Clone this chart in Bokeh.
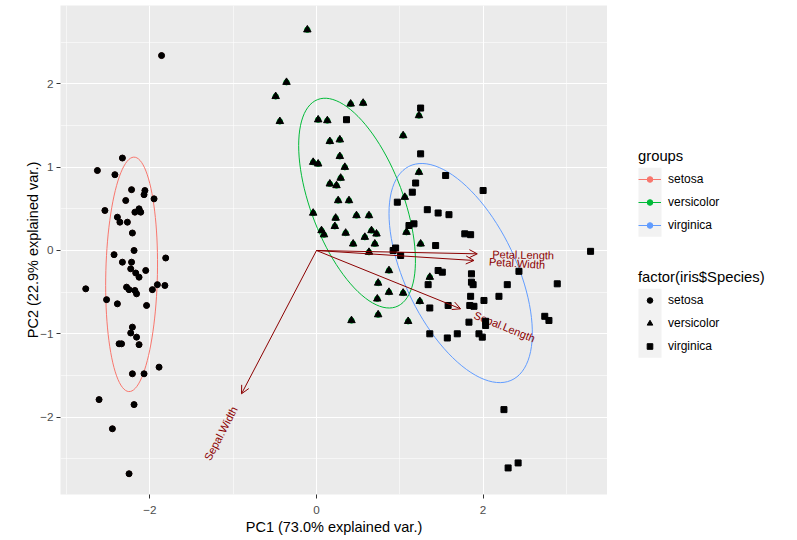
import numpy as np
from bokeh.plotting import figure
from bokeh.layouts import row
from bokeh.models import (ColumnDataSource, FixedTicker, Arrow, OpenHead, Legend,
                          LegendItem, Range1d)
from bokeh.embed import file_html
from bokeh.resources import INLINE
from bokeh.core.properties import value

# ---------------- data ----------------
species = ["setosa", "versicolor", "virginica"]

setosa_pc1 = [-1.86, -2.33, -2.63, -2.42, -2.22, -2.06, -2.07, -1.95, -2.29, -2.54,
              -2.13, -2.18, -2.11, -2.39, -2.36, -2.27, -2.21, -2.43, -2.19, -1.81,
              -2.33, -2.22, -2.23, -2.17, -2.05, -2.13, -2.77, -2.28, -2.25, -2.18,
              -2.16, -1.97, -1.91, -1.82, -2.52, -2.39, -2.04, -2.21, -2.23, -2.16,
              -2.37, -2.34, -2.13, -1.89, -2.21, -2.07, -2.61, -2.19, -2.45, -2.25]
setosa_pc2 = [2.34, 1.11, 0.96, 0.91, 0.73, 0.72, 0.67, 0.62, 0.60, 0.48,
              0.50, 0.46, 0.46, 0.40, 0.34, 0.34, 0.21, -0.05, 0.00, -0.09,
              -0.14, -0.14, -0.22, -0.27, -0.24, -0.32, -0.46, -0.44, -0.47, -0.48,
              -0.52, -0.47, -0.41, -0.42, -0.59, -0.64, -0.66, -0.92, -0.99, -1.04,
              -1.12, -1.12, -1.13, -1.40, -1.48, -1.48, -1.79, -1.85, -2.14, -2.68]

versicolor_pc1 = [-0.11, -0.36, -0.49, -0.44, 0.02, 0.13, 0.41, 0.56, 0.16, 0.28,
                  0.28, -0.04, 0.02, 0.34, 0.29, 0.16, 0.24, 0.26, 0.39, 1.06,
                  -0.04, 0.48, 0.63, 0.23, 0.22, 0.06, 0.09, 0.35, 0.66, 0.72,
                  0.58, 1.08, 0.44, 0.70, 0.63, 1.25, 0.87, 0.74, 0.87, 1.04,
                  1.24, 0.73, 0.74, 0.42, 1.10, 1.23, 1.04, 1.23, 1.36]
versicolor_pc2 = [2.65, 2.02, 1.85, 1.55, 1.57, 1.56, 1.76, 1.77, 1.31, 1.33,
                  1.13, 1.06, 1.04, 1.00, 0.87, 0.80, 0.78, 0.60, 0.60, 0.64,
                  0.45, 0.42, 0.42, 0.39, 0.29, 0.24, 0.19, 0.21, 0.24, 0.20,
                  0.16, 0.22, 0.08, 0.08, -0.02, 0.08, -0.24, -0.39, -0.50, -0.51,
                  -0.61, -0.58, -0.77, -0.84, -0.85, 1.62, 1.38, 0.94, -0.32]

virginica_pc1 = [0.36, 0.97, 1.19, 1.15, 1.11, 1.17, 0.92, 0.95, 1.01, 1.25,
                 1.25, 1.55, 2.00, 1.33, 1.46, 1.59, 1.78, 1.85, 1.43, 1.46,
                 1.51, 1.86, 1.86, 1.88, 2.29, 1.34, 1.85, 2.19, 2.01, 1.36,
                 1.58, 1.84, 1.89, 1.83, 2.03, 2.03, 1.36, 1.57, 1.69, 1.95,
                 1.99, 3.29, 2.43, 2.89, 2.74, 2.79, 2.25, 2.42, 2.30]
virginica_pc2 = [1.57, 0.58, 0.81, 0.70, 0.30, 0.32, 0.00, 0.03, -0.06, 1.71,
                 1.16, 0.90, 0.72, 0.49, 0.45, 0.43, 0.20, 0.19, 0.06, -0.24,
                 -0.26, -0.28, -0.38, -0.41, -0.41, -0.41, -0.55, -0.55, -0.60, -0.69,
                 -0.66, -0.66, -0.67, -0.86, -0.85, -0.90, -1.00, -1.05, -1.00, -1.00,
                 -1.04, -0.01, -0.25, -0.40, -0.79, -0.84, -1.91, -2.55, -2.61]

var_names = ["Sepal.Length", "Sepal.Width", "Petal.Length", "Petal.Width"]
var_pc1 = [1.73, -0.90, 1.93, 1.89]
var_pc2 = [-0.70, -1.72, -0.04, -0.12]

x_ticks = [-2, 0, 2]
x_minor = [-3, -1, 1, 3]
y_ticks = [-2, -1, 0, 1, 2]
y_minor = [-2.5, -1.5, -0.5, 0.5, 1.5, 2.5]
ellipse_prob = 0.68

group_colors = ["#F8766D", "#00BA38", "#619CFF"]
markers = ["circle", "triangle", "square"]
marker_sizes = [6, 7.5, 6]
FONT = "Liberation Sans"
DARKRED = "#8B0000"

pcs = {
    "setosa": (setosa_pc1, setosa_pc2),
    "versicolor": (versicolor_pc1, versicolor_pc2),
    "virginica": (virginica_pc1, virginica_pc2),
}

# ---------------- main figure ----------------
X0, X1, Y0, Y1 = -3.073, 3.493, -2.929, 2.941
H = 540
TOP, BOTTOM = 5, 46
FRAME_W, FRAME_H = 547, H - TOP - BOTTOM
p = figure(width=607, height=H, output_backend="svg", toolbar_location=None,
           x_range=Range1d(X0, X1), y_range=Range1d(Y0, Y1),
           min_border_left=60, min_border_right=0, min_border_top=TOP,
           min_border_bottom=BOTTOM)
p.background_fill_color = "#EBEBEB"
p.border_fill_color = "white"
p.outline_line_color = None

xt = FixedTicker(ticks=x_ticks, minor_ticks=x_minor)
yt = FixedTicker(ticks=y_ticks, minor_ticks=y_minor)
p.xaxis.ticker = xt
p.yaxis.ticker = yt
p.xgrid.ticker = xt
p.ygrid.ticker = yt
for g in (p.xgrid, p.ygrid):
    g.grid_line_color = "white"
    g.grid_line_width = 1.1
    g.minor_grid_line_color = "white"
    g.minor_grid_line_width = 0.55

for ax in (p.xaxis, p.yaxis):
    ax.axis_line_color = None
    ax.major_tick_line_color = "#333333"
    ax.major_tick_out = 4
    ax.major_tick_in = 0
    ax.minor_tick_out = 0
    ax.minor_tick_in = 0
    ax.major_label_text_color = "#4D4D4D"
    ax.major_label_text_font = FONT
    ax.major_label_text_font_size = "11.7px"
    ax.axis_label_text_font = FONT
    ax.axis_label_text_font_size = "14.5px"
    ax.axis_label_text_font_style = "normal"
    ax.axis_label_text_color = "black"
p.xaxis.major_label_standoff = 7
p.xaxis.axis_label_standoff = 2
p.yaxis.major_label_standoff = 3
p.yaxis.axis_label_standoff = -4
p.xaxis.axis_label = "PC1 (73.0% explained var.)"
p.yaxis.axis_label = "PC2 (22.9% explained var.)"

# ---------------- arrows ----------------
vsrc = ColumnDataSource(dict(x0=[0] * len(var_names), y0=[0] * len(var_names),
                             x1=var_pc1, y1=var_pc2))
p.add_layout(Arrow(source=vsrc, x_start="x0", y_start="y0", x_end="x1", y_end="y1",
                   line_color=DARKRED, line_width=1,
                   end=OpenHead(size=8, line_color=DARKRED, line_width=1)))

# ---------------- coloured points + ellipses ----------------
r_ed = np.sqrt(-2 * np.log(1 - ellipse_prob))
theta = np.linspace(-np.pi, np.pi, 100)
circle = np.column_stack([np.cos(theta), np.sin(theta)])
for sp, col in zip(species, group_colors):
    xs, ys = pcs[sp]
    p.scatter(xs, ys, marker="circle", size=5.5, color=col)
for sp, col in zip(species, group_colors):
    xs, ys = np.array(pcs[sp][0]), np.array(pcs[sp][1])
    sigma = np.cov(np.vstack([xs, ys]))
    mu = np.array([xs.mean(), ys.mean()])
    chol = np.linalg.cholesky(sigma).T  # upper triangular like R chol()
    pts = circle @ chol * r_ed + mu
    p.line(pts[:, 0], pts[:, 1], line_color=col, line_width=1)

# ---------------- variable labels ----------------
vx = np.array(var_pc1)
vy = np.array(var_pc2)
sx = FRAME_W / (X1 - X0)
sy = FRAME_H / (Y1 - Y0)
dpx = np.hypot(vx * sx, vy * sy)
off = 15.0
lx = vx + (vx * sx / dpx) * off / sx
ly = vy + (vy * sy / dpx) * off / sy
ang = np.arctan(vy / vx)
align = ["left" if v > 0 else "right" for v in vx]
lsrc = ColumnDataSource(dict(x=lx, y=ly, t=var_names, a=ang, al=align))
p.text(x="x", y="y", text="t", angle="a", text_align="al", text_baseline="middle",
       text_color=DARKRED, text_font=value(FONT), text_font_size="11px", source=lsrc)

# ---------------- black shape points ----------------
for sp, mk, ms in zip(species, markers, marker_sizes):
    xs, ys = pcs[sp]
    p.scatter(xs, ys, marker=mk, size=ms, color="black")

# ---------------- legend panel (data units = screen pixels) ----------------
LW = 190
lf = figure(width=LW, height=H, output_backend="svg", toolbar_location=None,
            x_range=Range1d(0, LW), y_range=Range1d(BOTTOM, H - TOP),
            x_axis_type=None, y_axis_type=None, min_border_left=0,
            min_border_right=0, min_border_top=TOP, min_border_bottom=BOTTOM)
lf.grid.visible = False
lf.outline_line_color = None
lf.background_fill_color = "white"
lf.border_fill_color = "white"

KEY_L, KEY_W, KEY_H = 31, 23, 23
GLYPH_H = 14
# bottom edges of the two key columns, in pixels above the figure bottom
LEG1_BOTTOM, LEG2_BOTTOM = H - 236.3, H - 357.3
n = len(species)
lf.quad(left=[KEY_L, KEY_L], right=[KEY_L + KEY_W, KEY_L + KEY_W],
        bottom=[LEG1_BOTTOM, LEG2_BOTTOM],
        top=[LEG1_BOTTOM + n * KEY_H, LEG2_BOTTOM + n * KEY_H],
        fill_color="#F2F2F2", line_color=None)

items1, items2 = [], []
OFF = [-1000]  # keys only: one hidden sample off the panel
for sp, col, mk, ms in zip(species, group_colors, markers, marker_sizes):
    rl = lf.line(x=OFF * 2, y=OFF * 2, line_color=col, line_width=1)
    rc = lf.scatter(x=OFF, y=OFF, marker="circle", size=5.5, color=col)
    rs = lf.scatter(x=OFF, y=OFF, marker=mk, size=ms, color="black")
    items1.append(LegendItem(label=sp, renderers=[rl, rc]))
    items2.append(LegendItem(label=sp, renderers=[rs]))


def style_legend(lg):
    lg.title_text_font = FONT
    lg.title_text_font_size = "14.8px"
    lg.title_text_font_style = "normal"
    lg.title_text_color = "black"
    lg.label_text_font = FONT
    lg.label_text_font_size = "12px"
    lg.label_text_color = "black"
    lg.glyph_width = KEY_W
    lg.glyph_height = GLYPH_H
    lg.label_height = GLYPH_H
    lg.label_standoff = 7
    lg.spacing = KEY_H - GLYPH_H
    lg.padding = 0
    lg.margin = 0
    lg.title_standoff = 8
    lg.border_line_color = None
    lg.background_fill_alpha = 0


pad = (KEY_H - GLYPH_H) / 2
leg1 = Legend(items=items1, title="groups",
              location=(KEY_L, LEG1_BOTTOM + pad - BOTTOM))
leg2 = Legend(items=items2, title="factor(iris$Species)",
              location=(KEY_L, LEG2_BOTTOM + pad - BOTTOM))
style_legend(leg1)
style_legend(leg2)
lf.add_layout(leg1, "center")
lf.add_layout(leg2, "center")

layout = row(p, lf)
open("out.html", "w").write(file_html(layout, INLINE))
